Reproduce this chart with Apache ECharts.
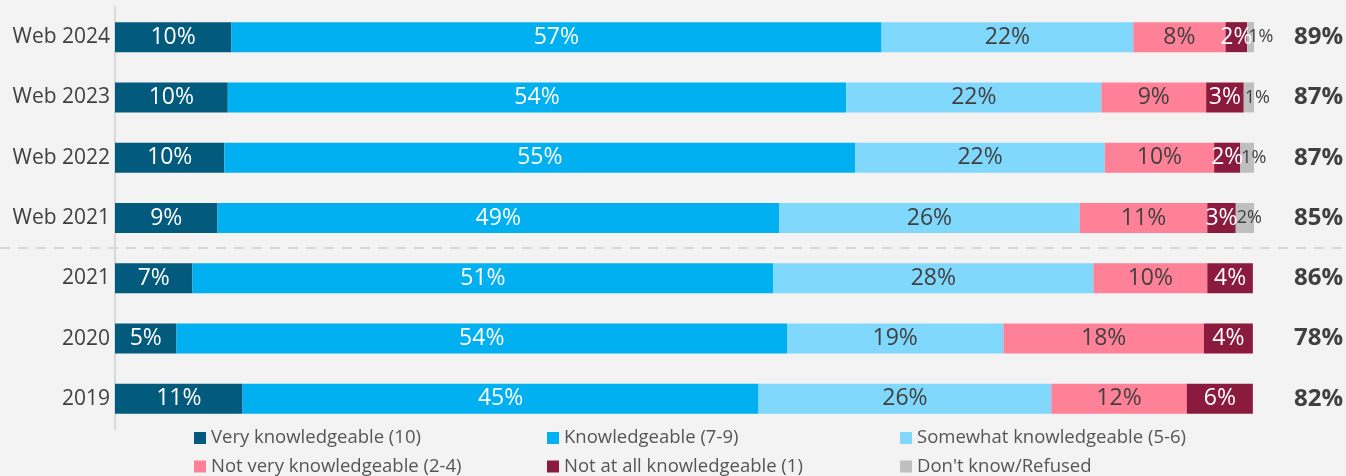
<!DOCTYPE html>
<html><head><meta charset="utf-8">
<script src="https://cdn.jsdelivr.net/npm/echarts@6/dist/echarts.min.js"></script>
<style>html,body{margin:0;padding:0;background:#f3f3f3;}#c{width:1346px;height:476px;}</style>
</head><body><div id="c"></div>
<script>
const categories = ['Web 2024','Web 2023','Web 2022','Web 2021','2021','2020','2019'];
const veryKnow   = [10.2, 9.9, 9.6, 9.0, 6.8, 5.4, 11.2];
const know       = [57.1, 54.3, 55.4, 49.3, 51.0, 53.6, 45.3];
const somewhat   = [22.1, 22.4, 21.9, 26.4, 28.1, 19.0, 25.7];
const notVery    = [8.1, 9.2, 9.6, 11.2, 10.0, 17.6, 11.9];
const notAtAll   = [1.9, 3.3, 2.3, 2.5, 4.0, 4.3, 5.8];
const dontKnow   = [0.6, 0.9, 1.2, 1.6, null, null, null];
const totals     = [89, 87, 87, 85, 86, 78, 82];
const seriesNames = ['Very knowledgeable (10)','Knowledgeable (7-9)','Somewhat knowledgeable (5-6)','Not very knowledgeable (2-4)','Not at all knowledgeable (1)',"Don't know/Refused"];

const FONT = '"Open Sans", "Noto Sans", sans-serif';
const colors = ['#025a7c','#00b0f0','#80d9fd','#ff8197','#8b1a3f','#bfbfbf'];
const labelColors = ['#ffffff','#ffffff','#404040','#404040','#ffffff','#404040'];
const datasets = [veryKnow, know, somewhat, notVery, notAtAll, dontKnow];

const fmt = p => (p.value == null || p.value === 0) ? '' : Math.round(p.value) + '%';

const series = datasets.map((d, i) => ({
  name: seriesNames[i],
  type: 'bar',
  stack: 'total',
  barWidth: 30,
  data: d,
  itemStyle: { color: colors[i] },
  label: i === 5 ? {
    show: true, position: 'insideLeft', distance: 1, formatter: fmt,
    color: '#404040', fontSize: 18, fontFamily: FONT
  } : {
    show: true, position: 'inside', formatter: fmt,
    color: labelColors[i], fontSize: 23, fontFamily: FONT
  },
  labelLayout: { hideOverlap: false },
  emphasis: { disabled: true },
  animation: false
}));

const legendBase = {
  orient: 'vertical', top: 428.5, height: 60, padding: 0, itemWidth: 12, itemHeight: 12, itemGap: 9.5,
  icon: 'rect', selectedMode: false,
  textStyle: { color: '#555555', fontSize: 18.5, fontFamily: FONT, lineHeight: 19 }
};

const chart = echarts.init(document.getElementById('c'), null, { renderer: 'canvas' });
chart.setOption({
  backgroundColor: '#f3f3f3',
  animation: false,
  grid: { left: 115, right: 92, top: 7, height: 422 },
  xAxis: { type: 'value', min: 0, max: 100, show: false },
  yAxis: [{
    type: 'category', data: categories, inverse: true,
    axisLine: { show: true, lineStyle: { color: '#d9d9d9', width: 2 } },
    axisTick: { show: false },
    axisLabel: { color: '#404040', fontSize: 21, fontFamily: FONT, margin: 5 }
  }, {
    type: 'category', data: totals.map(v => v + '%'), inverse: true, position: 'right',
    axisLine: { show: false }, axisTick: { show: false },
    axisLabel: { color: '#404040', fontSize: 24, fontWeight: 'bold', fontFamily: FONT, margin: 89, align: 'right' }
  }],
  legend: [
    Object.assign({}, legendBase, { left: 194, data: [seriesNames[0], seriesNames[3]] }),
    Object.assign({}, legendBase, { left: 547, data: [seriesNames[1], seriesNames[4]] }),
    Object.assign({}, legendBase, { left: 900, data: [seriesNames[2], seriesNames[5]] })
  ],
  series: series
});

// dashed separator between the web and non-web groups
const y1 = chart.convertToPixel({ yAxisIndex: 0 }, categories[3]);
const y2 = chart.convertToPixel({ yAxisIndex: 0 }, categories[4]);
const ySep = Math.round((y1 + y2) / 2);
chart.setOption({
  graphic: [{
    type: 'line', z: 0,
    shape: { x1: 0, y1: ySep, x2: 1346, y2: ySep },
    style: { stroke: '#d6d6d6', lineWidth: 2, lineDash: [10, 8] }
  }]
});
</script>
</body></html>
